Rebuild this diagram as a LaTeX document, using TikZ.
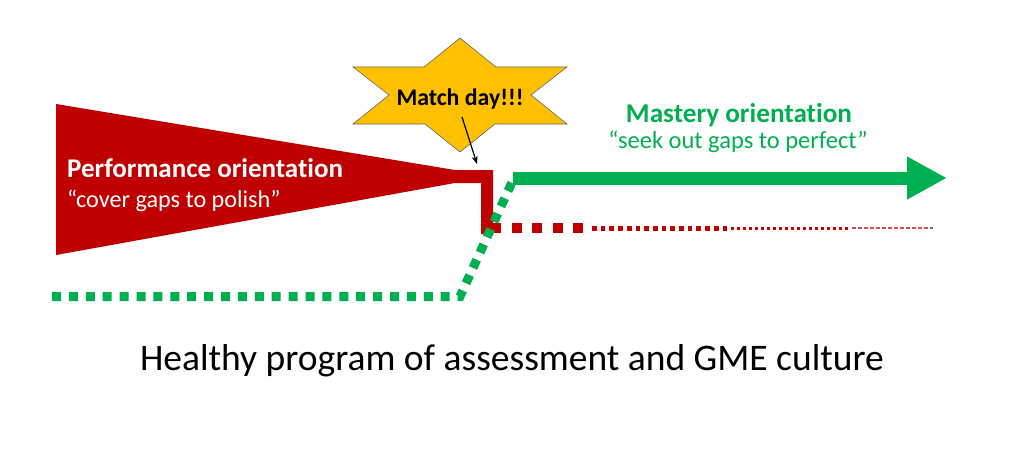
\documentclass[tikz,border=0pt]{standalone}
\usepackage{fontspec}
\setmainfont[Ligatures={NoCommon,NoContextual}]{Carlito}
\usetikzlibrary{arrows.meta}
\definecolor{perfred}{HTML}{C00000}
\definecolor{mastgreen}{HTML}{00B050}
\definecolor{stargold}{HTML}{FFC000}
\tikzset{
  redbar/.style={perfred,line cap=butt},
  greendots/.style={mastgreen,line width=9pt,dash pattern=on 9pt off 7.9pt},
  label/.style={inner sep=0pt,anchor=base}
}
\begin{document}
\begin{tikzpicture}[x=1pt,y=-1pt]
  \useasboundingbox (0,0) rectangle (1013,452);
  % performance wedge and step
  \fill[perfred] (56,104) -- (455,170) -- (493,170) -- (493,234) -- (481,234)
    -- (481,183) -- (455,183) -- (56,255) -- cycle;
  % red trail, thinning out
  \draw[redbar,line width=10pt,dash pattern=on 10pt off 10.5pt] (491,228) -- (583,228);
  \draw[redbar,line width=5pt,dash pattern=on 4.7pt off 4pt] (592,228) -- (730,228);
  \draw[redbar,line width=3pt,dash pattern=on 3pt off 3pt] (731,228) -- (850,228);
  \draw[redbar,perfred!70,line width=1.2pt,dash pattern=on 4pt off 2pt] (852,228) -- (933,228);
  % mastery path
  \coordinate (gstart) at (52,296.5);
  \coordinate (gknee) at (460,296.5);
  \coordinate (gtop) at (513,180);
  \coordinate (gtip) at (947,178);
  \draw[greendots] (gstart) -- (gknee) -- (gtop);
  \draw[mastgreen,line width=13pt,-{Triangle[length=40pt,width=40pt]}]
    (513,178) -- (gtip);
  % match day star
  \filldraw[fill=stargold,draw=black!60,line width=0.6pt]
    (460,38) -- (496,67) -- (567,67) -- (531,95) -- (567,124) -- (495,124)
    -- (460,152) -- (425,124) -- (353,124) -- (389,95) -- (353,67) -- (424,67) -- cycle;
  \node[label,font=\fontsize{23.8}{28}\selectfont\bfseries] (match) at (460,106) {Match day!!!};
  \coordinate (step) at (477,164);
  \draw[-{Stealth[length=8pt,width=6pt]},line width=1.2pt] (462,117) -- (step);
  % labels
  \node[label,anchor=base west,text=white,font=\fontsize{27}{32}\selectfont\bfseries]
    (perf) at (67,177) {Performance orientation};
  \node[label,anchor=base west,text=white,font=\fontsize{24.2}{29}\selectfont]
    (perfq) at (67,207) {“cover gaps to polish”};
  \node[label,text=mastgreen,font=\fontsize{27.2}{32}\selectfont\bfseries]
    (mast) at (739,122) {Mastery orientation};
  \node[label,text=mastgreen,font=\fontsize{24.5}{29}\selectfont]
    (mastq) at (738,148) {“seek out gaps to perfect”};
  \node[label,font=\fontsize{37.5}{44}\selectfont] (title) at (512,370)
    {Healthy program of assessment and GME culture};
\end{tikzpicture}
\end{document}
